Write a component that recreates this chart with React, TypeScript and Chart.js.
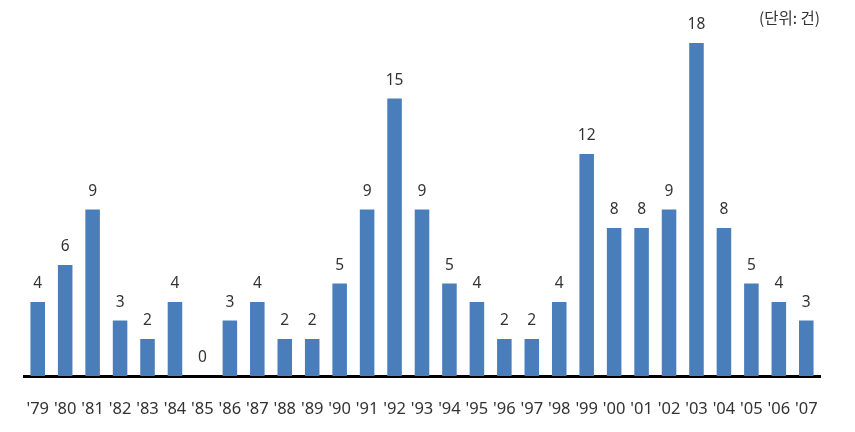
import React, { useEffect, useRef } from "react";
import { Chart, registerables } from "chart.js";

Chart.register(...registerables);

const years = ["'79","'80","'81","'82","'83","'84","'85","'86","'87","'88","'89","'90","'91","'92","'93","'94","'95","'96","'97","'98","'99","'00","'01","'02","'03","'04","'05","'06","'07"];
const counts = [4,6,9,3,2,4,0,3,4,2,2,5,9,15,9,5,4,2,2,4,12,8,8,9,18,8,5,4,3];
const unitLabel = "(단위: 건)";

const FONT = "'Noto Sans', 'Noto Sans CJK KR', sans-serif";

export default function App() {
  const ref = useRef<HTMLCanvasElement>(null);
  useEffect(() => {
    const labelsPlugin = {
      id: "valueLabels",
      afterDatasetsDraw(chart: any) {
        const ctx = chart.ctx;
        const meta = chart.getDatasetMeta(0);
        ctx.save();
        ctx.fillStyle = "#333333";
        ctx.font = `15.5px ${FONT}`;
        ctx.textAlign = "center";
        ctx.textBaseline = "middle";
        meta.data.forEach((bar: any, i: number) => {
          ctx.fillText(String(counts[i]), bar.x, bar.y - 18);
        });
        ctx.font = `15.5px 'Noto Sans CJK KR', sans-serif`;
        ctx.textAlign = "right";
        ctx.fillText(unitLabel, chart.chartArea.right, 18);
        ctx.restore();
      },
    };
    const chart = new Chart(ref.current!, {
      type: "bar",
      data: {
        labels: years,
        datasets: [
          {
            data: counts,
            backgroundColor: "#4A7EBB",
            barPercentage: 0.53,
            categoryPercentage: 1,
          },
        ],
      },
      options: {
        animation: false,
        responsive: false,
        layout: { padding: { left: 24, right: 35, top: 43, bottom: 16 } },
        plugins: { legend: { display: false }, tooltip: { enabled: false } },
        scales: {
          x: {
            grid: { display: false, drawTicks: false },
            border: { display: true, color: "#000000", width: 3 },
            ticks: {
              color: "#333333",
              font: { size: 16.5, family: FONT },
              padding: 23,
              autoSkip: false,
              maxRotation: 0,
            },
            afterFit(scale: any) {
              scale.height = 40;
            },
          },
          y: {
            display: false,
            min: 0,
            max: 18,
          },
        },
      },
      plugins: [labelsPlugin],
    });
    return () => chart.destroy();
  }, []);
  return (
    <div style={{ position: "fixed", left: 0, top: 0, width: 855, height: 432, background: "#fff" }}>
      <canvas ref={ref} width={855} height={432} />
    </div>
  );
}
